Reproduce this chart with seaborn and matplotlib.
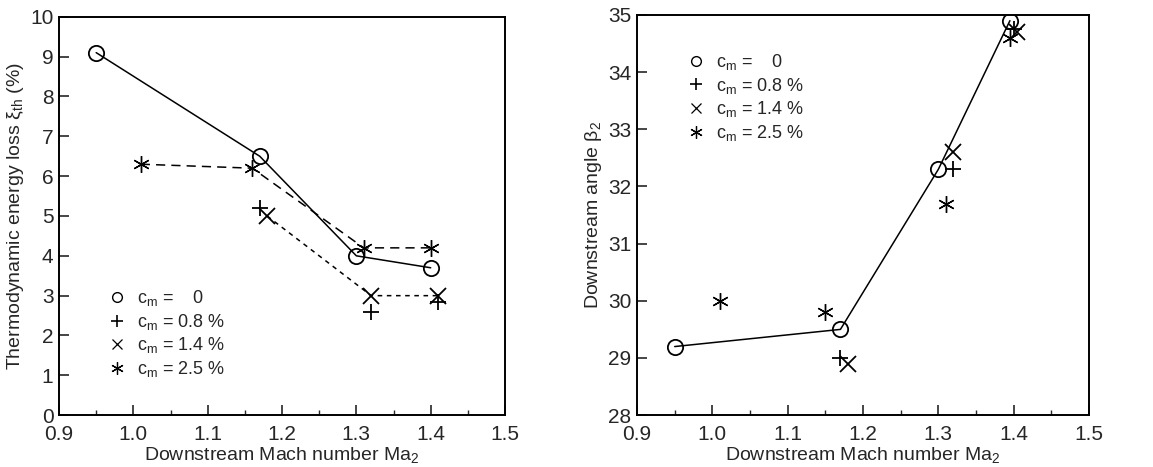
import matplotlib
matplotlib.use("Agg")
import matplotlib.pyplot as plt
from matplotlib.lines import Line2D
from matplotlib.ticker import MultipleLocator
import seaborn as sns
import pandas as pd

# left panel: thermodynamic energy loss (%)
ma_c0 = [0.95, 1.17, 1.30, 1.40]
loss_c0 = [9.1, 6.5, 4.0, 3.7]
ma_c08 = [1.17, 1.32, 1.41]
loss_c08 = [5.2, 2.6, 2.85]
ma_c14 = [1.18, 1.32, 1.41]
loss_c14 = [5.0, 3.0, 3.0]
ma_c25 = [1.01, 1.16, 1.31, 1.40]
loss_c25 = [6.3, 6.2, 4.2, 4.2]

# right panel: downstream angle beta2
ma_b0 = [0.95, 1.17, 1.30, 1.395]
beta_b0 = [29.2, 29.5, 32.3, 34.9]
ma_b08 = [1.17, 1.32, 1.40]
beta_b08 = [29.0, 32.3, 34.75]
ma_b14 = [1.18, 1.32, 1.405]
beta_b14 = [28.9, 32.6, 34.7]
ma_b25 = [1.01, 1.15, 1.31, 1.395]
beta_b25 = [30.0, 29.8, 31.7, 34.6]

legend_labels = [r"c$_\mathrm{m}$ =    0", r"c$_\mathrm{m}$ = 0.8 %",
                 r"c$_\mathrm{m}$ = 1.4 %", r"c$_\mathrm{m}$ = 2.5 %"]
x_ticks = [0.9, 1.0, 1.1, 1.2, 1.3, 1.4, 1.5]

sns.set_style("ticks")
plt.rcParams["font.family"] = ["Liberation Sans", "DejaVu Sans"]
plt.rcParams["mathtext.fontset"] = "custom"
plt.rcParams["mathtext.rm"] = "Liberation Sans"
plt.rcParams["mathtext.it"] = "Liberation Sans:italic"
plt.rcParams["mathtext.bf"] = "Liberation Sans:bold"

star = (6, 2, 0)
fig = plt.figure(figsize=(11.53, 4.67), dpi=100)
ax1 = fig.add_axes([0.0512, 0.111, 0.3868, 0.853])
ax2 = fig.add_axes([0.5525, 0.111, 0.392, 0.857])


def draw(ax, x, y, marker, ls, ms, mew=1.3, **kw):
    df = pd.DataFrame({"x": x, "y": y})
    sns.lineplot(data=df, x="x", y="y", ax=ax, sort=False, estimator=None,
                 color="black", marker=marker, markersize=ms, linestyle=ls,
                 linewidth=1.1, markeredgecolor="black", markeredgewidth=mew, **kw)


# left
draw(ax1, ma_c0, loss_c0, "o", "-", 11, markerfacecolor="none")
draw(ax1, ma_c08, loss_c08, "+", "none", 12)
draw(ax1, ma_c14, loss_c14, "x", (0, (3, 3)), 11)
draw(ax1, ma_c25, loss_c25, star, (0, (6, 4)), 12, mew=1.0)

# right
draw(ax2, ma_b0, beta_b0, "o", "-", 11, markerfacecolor="none")
draw(ax2, ma_b08, beta_b08, "+", "none", 12)
draw(ax2, ma_b14, beta_b14, "x", "none", 11)
draw(ax2, ma_b25, beta_b25, star, "none", 12, mew=1.0)

handles = [Line2D([], [], color="black", marker="o", ls="none", mfc="none", ms=7, mew=1.0),
           Line2D([], [], color="black", marker="+", ls="none", ms=9, mew=1.2),
           Line2D([], [], color="black", marker="x", ls="none", ms=7, mew=0.9),
           Line2D([], [], color="black", marker=star, ls="none", ms=9, mew=0.9)]

for ax in (ax1, ax2):
    ax.set_xlim(0.9, 1.5)
    ax.set_xticks(x_ticks)
    ax.set_xticklabels([f"{t:.1f}" for t in x_ticks])
    ax.xaxis.set_minor_locator(MultipleLocator(0.05))
    ax.tick_params(axis="both", which="major", direction="in", length=7,
                   width=1.2, labelsize=15, top=False, right=False, pad=4)
    ax.tick_params(axis="x", which="major", pad=7)
    ax.tick_params(axis="x", which="minor", direction="in", length=3.5, width=1)
    for s in ax.spines.values():
        s.set_visible(True)
        s.set_linewidth(1.4)
        s.set_color("black")
    ax.set_xlabel("Downstream Mach number Ma$_2$", fontsize=14, labelpad=1)

ax1.set_ylim(0, 10)
ax1.set_yticks(range(0, 11))
ax1.set_ylabel("Thermodynamic energy loss ξ$_\\mathrm{th}$ (%)", fontsize=14, labelpad=3)
ax2.set_ylim(28, 35)
ax2.set_yticks(range(28, 36))
ax2.set_ylabel("Downstream angle β$_2$", fontsize=14, labelpad=3)

ax1.legend(handles, legend_labels, frameon=False, loc="lower left",
           bbox_to_anchor=(0.09, 0.068), fontsize=13, handlelength=1.0,
           handletextpad=0.6, labelspacing=0.2, borderpad=0)
ax2.legend(handles, legend_labels, frameon=False, loc="upper left",
           bbox_to_anchor=(0.09, 0.93), fontsize=13, handlelength=1.0,
           handletextpad=0.6, labelspacing=0.2, borderpad=0)

fig.savefig("out.png", dpi=100, facecolor="white")
